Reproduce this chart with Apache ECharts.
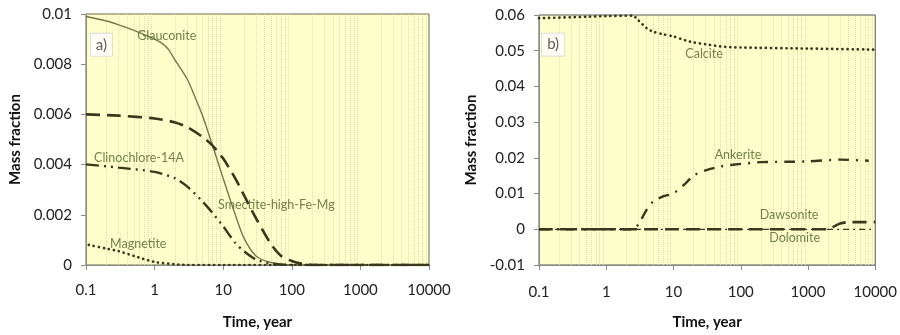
<!DOCTYPE html>
<html><head><meta charset="utf-8">
<script src="https://cdn.jsdelivr.net/npm/echarts@6/dist/echarts.min.js"></script>
<style>html,body{margin:0;padding:0;background:#fff}#c{width:900px;height:335px}</style>
</head><body><div id="c"></div>
<script>
// ---- Panel a) ----
const glauconiteT = [0.1,0.2,0.3,0.5,1,1.3,1.6,2,3,4,5,7,10,15,20,30,50,100,1000,10000];
const glauconiteV = [0.0099,0.00972,0.00957,0.00935,0.0090,0.00882,0.00858,0.00815,0.0074,0.0066,0.00595,0.00476,0.00345,0.0020,0.00108,0.00036,0.0001,0,0,0];
const smectiteT = [0.1,0.3,1,2,3,5,7,10,15,20,30,50,70,100,150,200,1000,10000];
const smectiteV = [0.006,0.00595,0.00584,0.00568,0.00549,0.0051,0.00476,0.00424,0.00345,0.00279,0.00187,0.00082,0.00036,0.00016,0.00003,0,0,0];
const clinoT = [0.1,0.3,1,2,3,5,7,10,15,20,30,50,100,1000,10000];
const clinoV = [0.00401,0.00388,0.00371,0.00345,0.00312,0.00253,0.00207,0.00154,0.00088,0.00055,0.00022,0.00005,0,0,0];
const magT = [0.11,0.2,0.3,0.5,1,2,3,10,100,1000,10000];
const magV = [0.0008,0.00065,0.00055,0.00036,0.00012,0.00003,0,0,0,0,0];
// ---- Panel b) ----
const calciteT = [0.1,0.5,1,2.5,3,4,5,7,10,15,20,30,50,100,1000,10000];
const calciteV = [0.0591,0.0595,0.0597,0.0598,0.0585,0.0563,0.0553,0.0546,0.054,0.0529,0.0523,0.0518,0.0512,0.0509,0.0506,0.0503];
const ankeriteT = [0.1,1,2.5,3,4,5,7,10,15,20,30,50,100,200,500,1000,3000,8000];
const ankeriteV = [0,0,0,0.0014,0.0055,0.0078,0.0092,0.0101,0.0128,0.0151,0.0165,0.0176,0.0183,0.0188,0.0189,0.019,0.0195,0.0192];
const dawsoniteT = [0.1,1,10,100,1000,2000,2500,3000,4000,10000];
const dawsoniteV = [0,0,0,0,0,0,0.0009,0.0016,0.002,0.002];
const dolomiteT = [0.1,10000];
const dolomiteV = [0,0];
// labels
const labelsA = [
  {name:'Glauconite', x:0.557, y:0.00913},
  {name:'Clinochlore-14A', x:0.131, y:0.00427},
  {name:'Smectite-high-Fe-Mg', x:8.4, y:0.00241},
  {name:'Magnetite', x:0.224, y:0.00083}
];
const labelsB = [
  {name:'Calcite', x:15, y:0.049},
  {name:'Ankerite', x:40.9, y:0.0209},
  {name:'Dawsonite', x:191, y:0.0041},
  {name:'Dolomite', x:265, y:-0.0025}
];
const panelTags = [{name:'a)', x:0.1175, y:0.00877},{name:'b)', x:0.1114, y:0.0517}];
const xTicks = ['0.1','1','10','100','1000','10000'];

const decades = [0.1,1,10,100,1000];
const minorX = [];
decades.forEach(d => { for (let k=2;k<=9;k++) minorX.push(+(d*k).toPrecision(4)); });

const zip = (t,v) => t.map((x,i)=>[x,v[i]]);
const dark = '#38381a';
const labColor = '#4f6228';

function lineSeries(idx, t, v, style){
  return Object.assign({
    type:'line', xAxisIndex:idx, yAxisIndex:idx, data:zip(t,v), showSymbol:false, symbol:'none',
    smooth:0.25, z:5, silent:true
  }, style);
}
function labelSeries(idx, items, extra){
  return {
    type:'scatter', xAxisIndex:idx, yAxisIndex:idx, symbolSize:0, silent:true, z:10,
    data: items.map(o=>({name:o.name, value:[o.x,o.y]})),
    label: Object.assign({show:true, position:'right', distance:0, formatter:p=>p.name,
      color:labColor, fontFamily:'Lato', fontSize:12.5}, extra||{})
  };
}
function gridLines(idx){
  return {
    type:'line', xAxisIndex:idx, yAxisIndex:idx, data:[], z:1, silent:true,
    markLine:{silent:true, symbol:'none', label:{show:false}, animation:false,
      lineStyle:{type:'dotted', color:'#deddb6', width:1},
      data: minorX.map(v=>({xAxis:v}))}
  };
}
const axisLbl = {color:'#222', fontFamily:'Lato', fontSize:15};
function xAx(idx, margin){
  return {
    type:'log', logBase:10, gridIndex:idx, min:0.1, max:10000,
    name:'Time, year', nameLocation:'middle', nameGap:50,
    nameTextStyle:{fontFamily:'Lato', fontWeight:'bold', fontSize:15, color:'#111'},
    axisLine:{onZero:false, lineStyle:{color:'#8c8c8c'}},
    axisTick:{show:true, length:5, lineStyle:{color:'#8c8c8c'}},
    axisLabel:Object.assign({margin:margin, formatter:v=>xTicks.find(s=>Math.abs(+s - v) < 1e-9*Math.max(1,v)) || String(+v.toPrecision(6))}, axisLbl),
    splitLine:{show:false}, minorTick:{show:false}
  };
}
function yAx(idx, min, max, interval, gap){
  return {
    type:'value', gridIndex:idx, min:min, max:max, interval:interval,
    name:'Mass fraction', nameLocation:'middle', nameGap:gap, nameRotate:90,
    nameTextStyle:{fontFamily:'Lato', fontWeight:'bold', fontSize:15, color:'#111'},
    axisLine:{show:true, onZero:false, lineStyle:{color:'#8c8c8c'}},
    axisTick:{show:true, length:5, lineStyle:{color:'#8c8c8c'}},
    axisLabel:Object.assign({margin:14, formatter:v=>String(+v.toFixed(4))}, axisLbl),
    splitLine:{show:false}
  };
}

const chart = echarts.init(document.getElementById('c'), null, {renderer:'canvas'});
const tagStyle = {color:'#333', fontSize:15, backgroundColor:'#fff', borderColor:'#d8d8d8', borderWidth:1, padding:[4,5,3,5]};
chart.setOption({
  animation:false,
  grid:[
    {left:86, top:14, width:343, height:253, show:true, backgroundColor:'#FFFFCC', borderColor:'#6a6a48', borderWidth:1},
    {left:539, top:15, width:340, height:254, show:true, backgroundColor:'#FFFFCC', borderColor:'#555', borderWidth:1}
  ],
  xAxis:[xAx(0,18), xAx(1,20)],
  yAxis:[yAx(0,0,0.01,0.002,63), yAx(1,-0.01,0.06,0.01,60)],
  series:[
    gridLines(0), gridLines(1),
    lineSeries(0, glauconiteT, glauconiteV, {lineStyle:{color:'#76764c', width:1.4}}),
    lineSeries(0, smectiteT, smectiteV, {lineStyle:{color:dark, width:2.6, type:[14,7]}}),
    lineSeries(0, clinoT, clinoV, {lineStyle:{color:dark, width:2.4, type:[13,5,2,5,2,5]}}),
    lineSeries(0, magT, magV, {lineStyle:{color:dark, width:2.7, type:[0.1,5], cap:'round'}}),
    lineSeries(1, dolomiteT, dolomiteV, {lineStyle:{color:dark, width:1.2, type:[6,4,2,4]}}),
    lineSeries(1, dawsoniteT, dawsoniteV, {lineStyle:{color:dark, width:2.6, type:[14,7]}}),
    lineSeries(1, ankeriteT, ankeriteV, {lineStyle:{color:dark, width:2.4, type:[11,7,2,7]}}),
    lineSeries(1, calciteT, calciteV, {lineStyle:{color:dark, width:2.7, type:[0.1,5], cap:'round'}}),
    labelSeries(0, labelsA),
    labelSeries(1, labelsB),
    labelSeries(0, [panelTags[0]], tagStyle),
    labelSeries(1, [panelTags[1]], tagStyle)
  ]
});
</script>
</body></html>
